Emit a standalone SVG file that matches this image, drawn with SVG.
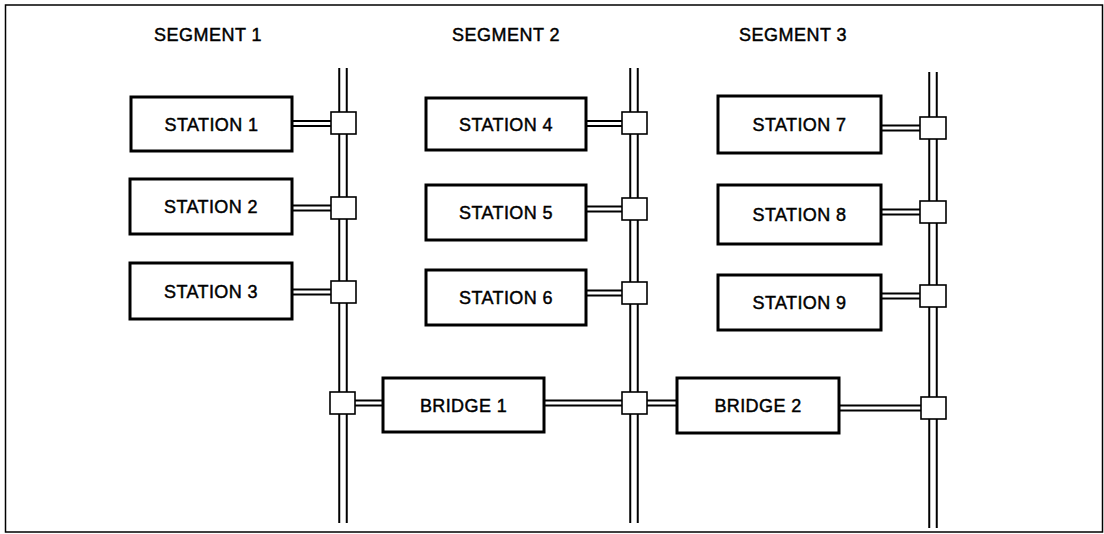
<svg xmlns="http://www.w3.org/2000/svg" width="1104" height="534" viewBox="0 0 1104 534">
<style>
.frame{fill:none;stroke:#000;stroke-width:1.5}
.box{fill:#fff;stroke:#000;stroke-width:3}
.tap{fill:#fff;stroke:#000;stroke-width:1.6}
.outer{stroke:#000;stroke-width:9.5;fill:none}
.inner{stroke:#fff;stroke-width:5.5;fill:none}
.couter{stroke:#000;stroke-width:7;fill:none}
.cinner{stroke:#fff;stroke-width:3;fill:none}
text{font-family:"Liberation Sans",Arial,Helvetica,sans-serif;font-size:18px;fill:#000;stroke:#000;stroke-width:0.45;text-anchor:middle;letter-spacing:0.4px}
.seg{letter-spacing:0.5px}
</style>
<rect width="1104" height="534" fill="#fff"/>
<rect class="frame" x="5.5" y="5" width="1097" height="527"/>
<g id="labels">
<text class="seg" x="208" y="41">SEGMENT 1</text>
<text class="seg" x="506" y="41">SEGMENT 2</text>
<text class="seg" x="793" y="41">SEGMENT 3</text>
</g>
<g id="connectors">
<path class="outer" d="M343 68V523M634 68V523M933 72V528"/>
<path class="inner" d="M343 68V523M634 68V523M933 72V528"/>
<path class="couter" d="M292 123.5H331M292 208H331M292 292H331M355 403H383M544 403H622M586 123.5H622M586 209H622M586 293H622M647 403H677M881 128H920M881 212H920M881 296H920M839 408H921"/>
<path class="cinner" d="M292 123.5H331M292 208H331M292 292H331M355 403H383M544 403H622M586 123.5H622M586 209H622M586 293H622M647 403H677M881 128H920M881 212H920M881 296H920M839 408H921"/>
<rect class="tap" x="331" y="112" width="25" height="22"/>
<rect class="tap" x="331" y="197" width="25" height="22"/>
<rect class="tap" x="331" y="281" width="25" height="22"/>
<rect class="tap" x="330" y="392" width="25" height="22"/>
<rect class="tap" x="622" y="112" width="25" height="22"/>
<rect class="tap" x="622" y="198" width="25" height="22"/>
<rect class="tap" x="622" y="282" width="25" height="22"/>
<rect class="tap" x="622" y="392" width="25" height="22"/>
<rect class="tap" x="920" y="117" width="26" height="22"/>
<rect class="tap" x="920" y="201" width="26" height="22"/>
<rect class="tap" x="920" y="285" width="26" height="22"/>
<rect class="tap" x="921" y="397" width="25" height="22"/>
</g>
<g id="station1"><rect class="box" x="131" y="97" width="161" height="54"/><text x="211.5" y="130.5">STATION 1</text></g>
<g id="station2"><rect class="box" x="130" y="179" width="162" height="55"/><text x="211" y="213">STATION 2</text></g>
<g id="station3"><rect class="box" x="130" y="263" width="162" height="56"/><text x="211" y="297.5">STATION 3</text></g>
<g id="station4"><rect class="box" x="426" y="98" width="160" height="52"/><text x="506" y="130.5">STATION 4</text></g>
<g id="station5"><rect class="box" x="426" y="185" width="160" height="55"/><text x="506" y="219">STATION 5</text></g>
<g id="station6"><rect class="box" x="426" y="270" width="160" height="55"/><text x="506" y="304">STATION 6</text></g>
<g id="station7"><rect class="box" x="718" y="96" width="163" height="57"/><text x="799.5" y="131">STATION 7</text></g>
<g id="station8"><rect class="box" x="718" y="185" width="163" height="59"/><text x="799.5" y="221">STATION 8</text></g>
<g id="station9"><rect class="box" x="718" y="275" width="163" height="55"/><text x="799.5" y="309">STATION 9</text></g>
<g id="bridge1"><rect class="box" x="383" y="378" width="161" height="54"/><text x="463.5" y="411.5">BRIDGE 1</text></g>
<g id="bridge2"><rect class="box" x="677" y="378" width="162" height="55"/><text x="758" y="412">BRIDGE 2</text></g>
</svg>
